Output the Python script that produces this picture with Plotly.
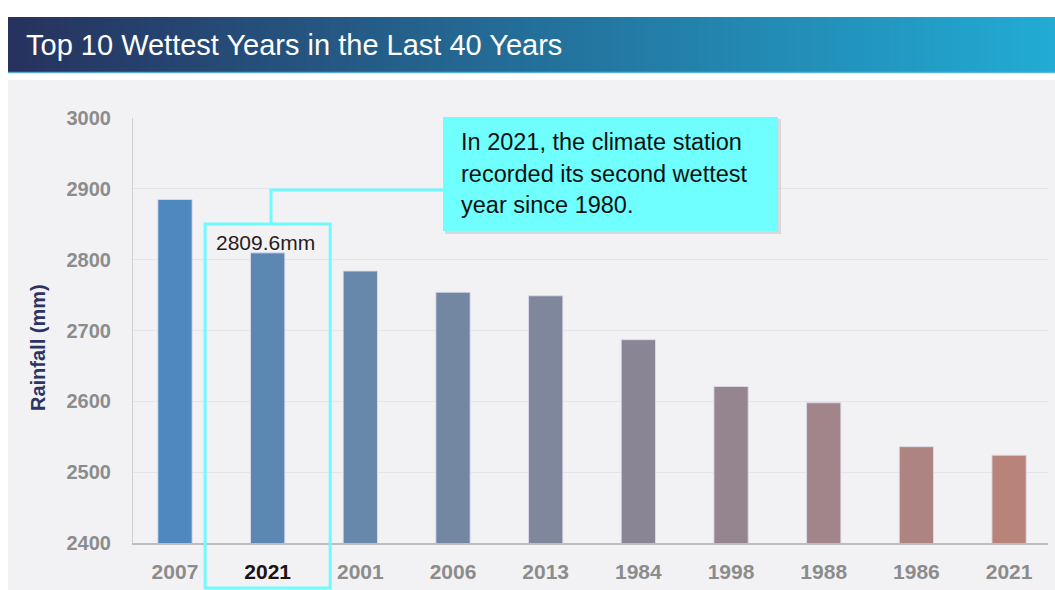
import plotly.graph_objects as go

# ---------------- data ----------------
years = ["2007", "2021", "2001", "2006", "2013", "1984", "1998", "1988", "1986", "2021"]
rainfall_mm = [2885, 2809.6, 2784, 2754, 2749, 2687, 2621, 2598, 2536, 2524]
highlight_index = 1
highlight_label = "2809.6mm"
chart_title = "Top 10 Wettest Years in the Last 40 Years"
callout_lines = ["In 2021, the climate station", "recorded its second wettest", "year since 1980."]
y_ticks = [2400, 2500, 2600, 2700, 2800, 2900, 3000]

# ---------------- styles ----------------
bar_colors = ["#4f87bf", "#5b87b3", "#6787ab", "#7387a3", "#7e879b",
              "#8a8595", "#95858f", "#a1858a", "#ad8481", "#b8847a"]
FONT = "Arial, Liberation Sans, Helvetica, sans-serif"
W, H = 1055, 590
L, R, T, B = 133, 1048, 118, 543


def px(x):
    return (x - L) / (R - L)


def py(y):
    return (B - y) / (B - T)


x_idx = list(range(len(years)))
ticktext = [f"<span style='color:#1f1111'>{y}</span>" if i == highlight_index else y
            for i, y in enumerate(years)]

fig = go.Figure(go.Bar(
    x=x_idx, y=rainfall_mm, width=0.37,
    marker=dict(color=bar_colors, line=dict(color="rgba(222,218,236,0.9)", width=1)),
    hoverinfo="skip",
))

shapes = []
# grey panel
shapes.append(dict(type="rect", xref="paper", yref="paper", layer="below",
                   x0=px(8), x1=px(1056), y0=py(80), y1=py(592),
                   fillcolor="#f2f2f5", line=dict(width=0)))


# title bar gradient
def lerp(c1, c2, t):
    return tuple(int(round(a + (b - a) * t)) for a, b in zip(c1, c2))


stops = [(0.0, (39, 49, 93)), (0.55, (35, 118, 160)), (1.0, (34, 171, 212))]


def grad(t):
    for (t0, c0), (t1, c1) in zip(stops[:-1], stops[1:]):
        if t <= t1:
            return lerp(c0, c1, (t - t0) / (t1 - t0))
    return stops[-1][1]


n = 120
x_start, x_end = 8, 1056
for i in range(n):
    a = x_start + (x_end - x_start) * i / n
    b = x_start + (x_end - x_start) * (i + 1) / n + 0.8
    c = grad((i + 0.5) / n)
    shapes.append(dict(type="rect", xref="paper", yref="paper", layer="below",
                       x0=px(a), x1=px(b), y0=py(17), y1=py(73),
                       fillcolor="rgb(%d,%d,%d)" % c, line=dict(width=0)))
shapes.append(dict(type="line", xref="paper", yref="paper", layer="below",
                   x0=px(8), x1=px(1056), y0=py(72.5), y1=py(72.5),
                   line=dict(color="rgba(95,185,228,0.85)", width=1.5)))

# highlight box around the highlighted bar
shapes.append(dict(type="rect", xref="x", yref="paper",
                   x0=highlight_index - 0.675, x1=highlight_index + 0.675,
                   y0=py(588), y1=py(224),
                   line=dict(color="#6ffbfd", width=3), fillcolor="rgba(0,0,0,0)"))
# connector
shapes.append(dict(type="path", xref="paper", yref="paper",
                   path=f"M {px(271)},{py(224)} L {px(271)},{py(190)} L {px(444)},{py(190)}",
                   line=dict(color="#6ffbfd", width=3)))
# callout shadow and box
shapes.append(dict(type="rect", xref="paper", yref="paper",
                   x0=px(445), x1=px(781), y0=py(234), y1=py(119),
                   fillcolor="rgba(0,0,0,0.10)", line=dict(width=0)))
shapes.append(dict(type="rect", xref="paper", yref="paper",
                   x0=px(443), x1=px(778), y0=py(231), y1=py(117),
                   fillcolor="#6efffe", line=dict(width=0)))

annotations = []
annotations.append(dict(text=chart_title, xref="paper", yref="paper",
                        x=px(24), y=py(45), xanchor="left", yanchor="middle",
                        showarrow=False, font=dict(family=FONT, size=29, color="white")))
for i, line in enumerate(callout_lines):
    annotations.append(dict(text=line, xref="paper", yref="paper",
                            x=px(459), y=py(142 + 31.5 * i), xanchor="left", yanchor="middle",
                            showarrow=False, font=dict(family=FONT, size=23.5, color="#111111")))
annotations.append(dict(text=highlight_label, xref="paper", yref="paper",
                        x=px(214), y=py(242), xanchor="left", yanchor="middle",
                        showarrow=False, font=dict(family=FONT, size=21, color="#2a1b1b")))
annotations.append(dict(text="<b>Rainfall (mm)</b>", xref="paper", yref="paper",
                        x=px(38), y=py(348), xanchor="center", yanchor="middle", textangle=-90,
                        showarrow=False, font=dict(family=FONT, size=20, color="#2b3563")))

fig.update_layout(
    width=W, height=H,
    margin=dict(l=L, r=W - R, t=T, b=H - B, pad=0, autoexpand=False),
    paper_bgcolor="white", plot_bgcolor="rgba(0,0,0,0)",
    showlegend=False, bargap=0.63,
    shapes=shapes, annotations=annotations,
    xaxis=dict(range=[-0.453, 9.42], tickmode="array", tickvals=x_idx, ticktext=ticktext,
               automargin=False,
               showgrid=False, zeroline=False, showline=True, linecolor="#bdbdbd", linewidth=1.5,
               ticks="", ticklabelstandoff=9,
               tickfont=dict(family=FONT, size=21, color="#8c8c8c", weight="bold")),
    yaxis=dict(range=[2400, 3000], tickmode="array", tickvals=y_ticks, automargin=False,
               showgrid=True, gridcolor="#e4e4ea", gridwidth=1, zeroline=False,
               showline=True, linecolor="#d0d0d4", linewidth=1,
               ticks="", ticklabelstandoff=17,
               tickfont=dict(family=FONT, size=20, color="#8c8c8c", weight="bold")),
)

fig.write_html("out.html")
